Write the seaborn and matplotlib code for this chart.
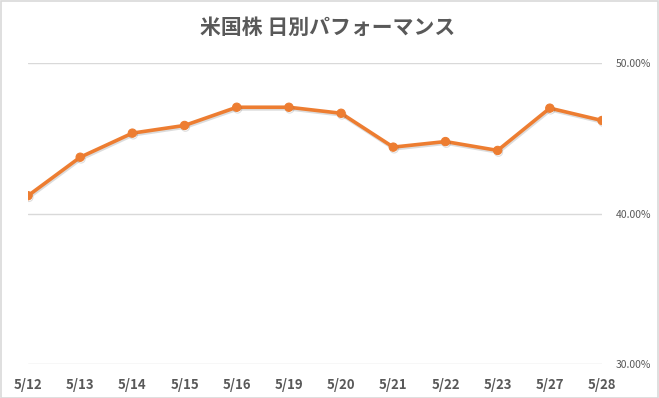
import pandas as pd
import numpy as np
import matplotlib.pyplot as plt
import matplotlib.patheffects as pe
from matplotlib.patches import Rectangle
from matplotlib.ticker import FuncFormatter
import seaborn as sns

# データ
dates = ["5/12", "5/13", "5/14", "5/15", "5/16", "5/19", "5/20", "5/21", "5/22", "5/23", "5/27", "5/28"]
performance = [41.18, 43.74, 45.34, 45.85, 47.06, 47.06, 46.66, 44.41, 44.78, 44.19, 47.00, 46.18]

df = pd.DataFrame({"日付": dates, "パフォーマンス": performance})

sns.set_theme(style="white")
plt.rcParams['font.family'] = ['Noto Sans CJK JP', 'DejaVu Sans']

fig = plt.figure(figsize=(6.59, 3.98), dpi=100)
ax = fig.add_axes([28 / 659, 1 - 364 / 398, (602 - 28) / 659, (364 - 63) / 398])

sns.lineplot(data=df, x="日付", y="パフォーマンス", sort=False, ax=ax,
             color="#ED7D31", linewidth=2.6, marker="o", markersize=6,
             markeredgecolor="#ED7D31",
             path_effects=[pe.SimpleLineShadow(offset=(0.6, -1.2), alpha=0.18, shadow_color="#404040"),
                           pe.Normal()])

ax.set_ylim(30, 50)
ax.set_xlim(0, len(dates) - 1)
ax.set_yticks([30, 40, 50])
ax.yaxis.set_major_formatter(FuncFormatter(lambda v, p: f"{v:.2f}%"))
ax.yaxis.tick_right()
ax.grid(axis="y", color="#D9D9D9", linewidth=1)
ax.set_axisbelow(True)
for s in ax.spines.values():
    s.set_visible(False)
ax.tick_params(axis="y", length=0, pad=10, labelsize=7.5, labelcolor="#595959")
ax.tick_params(axis="x", length=0, pad=10, labelsize=9.5, labelcolor="#595959")
for lbl in ax.get_xticklabels():
    lbl.set_fontweight("bold")
ax.set_xlabel("")
ax.set_ylabel("")

fig.text(328 / 659, 1 - 27 / 398, "米国株 日別パフォーマンス", ha="center", va="center",
         fontsize=15, color="#595959", fontweight="bold")

# 外枠
fig.patches.append(Rectangle((0.001, 0.001), 0.997, 0.997, transform=fig.transFigure,
                             fill=False, edgecolor="#D9D9D9", linewidth=1.2))

plt.savefig("out.png", dpi=100)
